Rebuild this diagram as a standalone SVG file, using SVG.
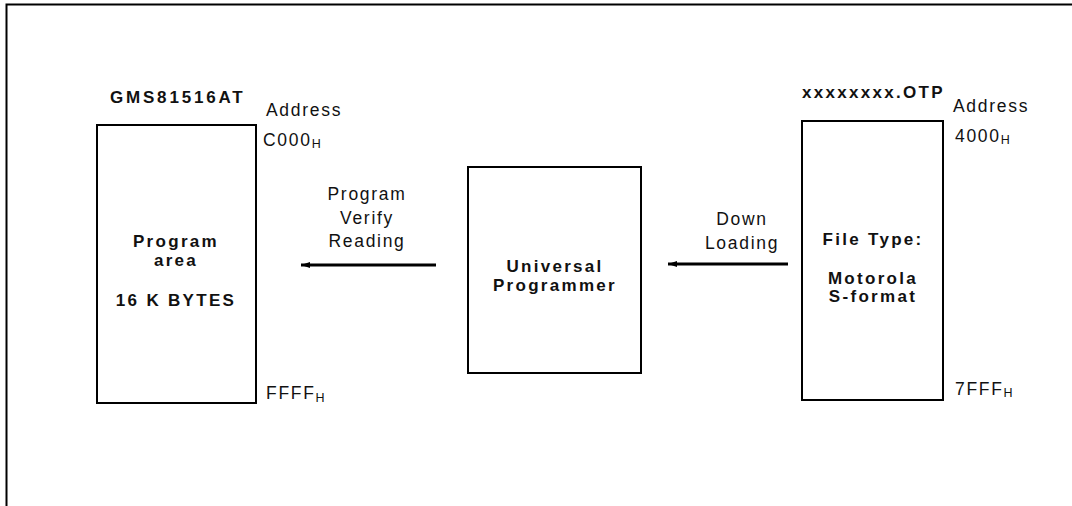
<svg xmlns="http://www.w3.org/2000/svg" width="1072" height="506" viewBox="0 0 1072 506">
<defs>
<style>
.box{fill:#fff;stroke:#000;stroke-width:2}
.frame{fill:none;stroke:#000;stroke-width:2}
.t{font-family:"Liberation Sans",Arial,sans-serif;font-size:17.5px;letter-spacing:1.7px;fill:#111}
.b{font-family:"Liberation Sans",Arial,sans-serif;font-size:17px;font-weight:bold;letter-spacing:2.3px;fill:#111}
.m{text-anchor:middle}
.sub{font-size:12.5px;letter-spacing:1px}
.conn{stroke:#000;stroke-width:3;fill:none}
</style>
<marker id="arr" markerUnits="userSpaceOnUse" markerWidth="10" markerHeight="8" refX="9" refY="4" orient="auto">
<path d="M0,1 L9,4 L0,7 Z" fill="#000"/>
</marker>
</defs>
<rect width="1072" height="506" fill="#fff"/>
<path class="frame" d="M6.5,506 V4.5 H1072"/>

<g id="chip">
<text class="b" x="110" y="103" style="letter-spacing:2.8px">GMS81516AT</text>
<text class="t" x="266" y="116">Address</text>
<text class="t" x="263" y="146">C000<tspan class="sub" dy="2">H</tspan></text>
<rect class="box" x="97" y="125" width="159" height="278"/>
<text class="b m" x="176" y="247">Program</text>
<text class="b m" x="176" y="266">area</text>
<text class="b m" x="176" y="306">16 K BYTES</text>
<text class="t" x="266" y="399">FFFF<tspan class="sub" dy="3">H</tspan></text>
</g>

<g id="programmer">
<rect class="box" x="468" y="167" width="173" height="206"/>
<text class="b m" x="555" y="272">Universal</text>
<text class="b m" x="555" y="291">Programmer</text>
</g>

<g id="file">
<text class="b" x="802" y="98">xxxxxxxx.OTP</text>
<text class="t" x="953" y="112">Address</text>
<text class="t" x="955" y="142">4000<tspan class="sub" dy="2">H</tspan></text>
<rect class="box" x="802" y="121" width="141" height="279"/>
<text class="b m" x="873" y="245">File Type:</text>
<text class="b m" x="873" y="284">Motorola</text>
<text class="b m" x="873" y="302">S-format</text>
<text class="t" x="955" y="395">7FFF<tspan class="sub" dy="2">H</tspan></text>
</g>

<g id="connectors">
<line class="conn" x1="436" y1="265" x2="301" y2="265" marker-end="url(#arr)"/>
<text class="t m" x="367" y="200">Program</text>
<text class="t m" x="367" y="224">Verify</text>
<text class="t m" x="367" y="247">Reading</text>
<line class="conn" x1="788" y1="264" x2="668" y2="264" marker-end="url(#arr)"/>
<text class="t m" x="742" y="225">Down</text>
<text class="t m" x="742" y="249">Loading</text>
</g>
</svg>
